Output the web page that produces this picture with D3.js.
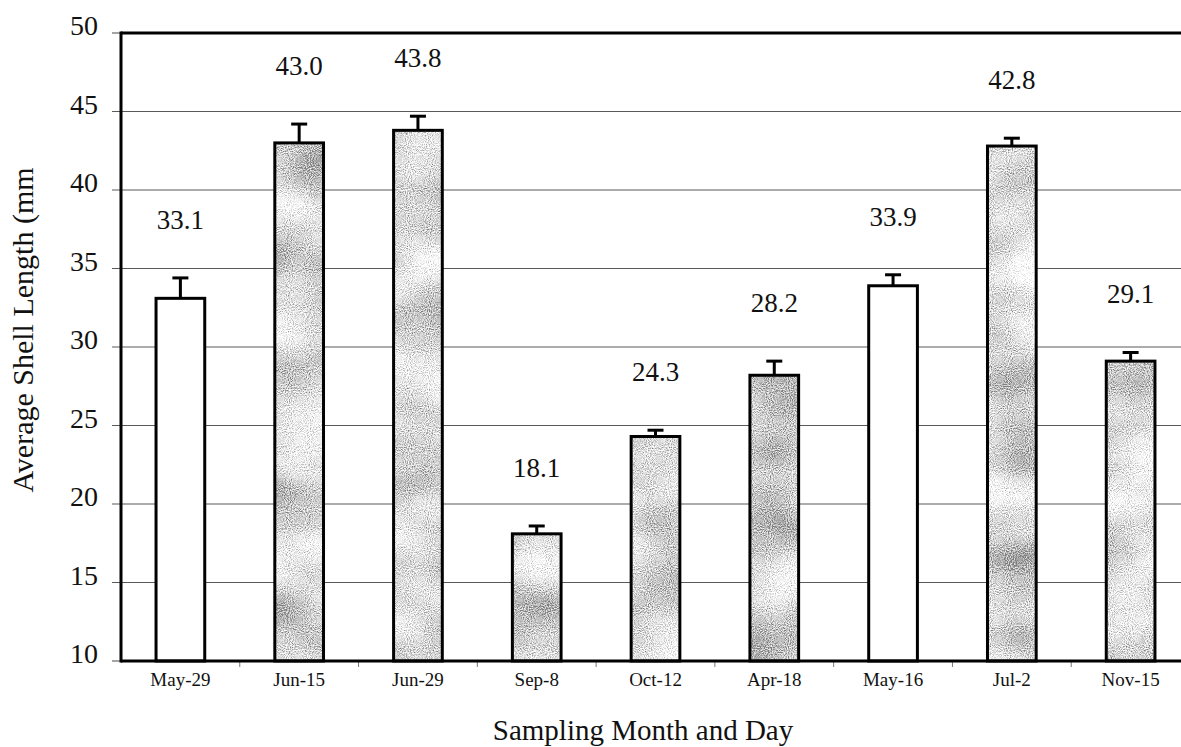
<!DOCTYPE html>
<html>
<head>
<meta charset="utf-8">
<script src="https://cdn.jsdelivr.net/npm/d3@7"></script>
<style>
  html, body { margin: 0; padding: 0; background: #fff; }
  svg { display: block; }
  svg text { font-family: "Liberation Serif", serif; }
</style>
</head>
<body>
<svg id="chart" width="1181" height="747"></svg>
<script>
// Sampling dates, mean shell length (mm) and standard error for each sample
const categories = ["May-29", "Jun-15", "Jun-29", "Sep-8", "Oct-12", "Apr-18", "May-16", "Jul-2", "Nov-15"];
const meanLength = [33.1, 43.0, 43.8, 18.1, 24.3, 28.2, 33.9, 42.8, 29.1];
const stdError   = [1.3, 1.2, 0.9, 0.5, 0.4, 0.9, 0.7, 0.5, 0.55];
const valueLabels = ["33.1", "43.0", "43.8", "18.1", "24.3", "28.2", "33.9", "42.8", "29.1"];
const yTicks = [10, 15, 20, 25, 30, 35, 40, 45, 50];
// samples drawn as open (unshaded) bars
const openBars = ["May-29", "May-16"];

const FONT = "Liberation Serif";
const svg = d3.select("#chart");
const plotLeft = 121, plotRight = 1190, plotTop = 33, plotBottom = 661;

const x = d3.scaleBand()
  .domain(categories)
  .range([plotLeft, plotRight])
  .paddingInner(0.59)
  .paddingOuter(0.295);

const y = d3.scaleLinear()
  .domain([10, 50])
  .range([plotBottom, plotTop]);

// stippled grey fill for the shaded bars
const defs = svg.append("defs");
const f = defs.append("filter")
  .attr("id", "stipple")
  .attr("filterUnits", "objectBoundingBox")
  .attr("x", 0).attr("y", 0).attr("width", 1).attr("height", 1)
  .attr("color-interpolation-filters", "sRGB");
const toGrey = "1 0 0 0 0  1 0 0 0 0  1 0 0 0 0  0 0 0 0 1";
f.append("feTurbulence").attr("type", "fractalNoise")
  .attr("baseFrequency", "0.011 0.017").attr("numOctaves", 2).attr("seed", 11)
  .attr("result", "blotRaw");
f.append("feColorMatrix").attr("in", "blotRaw").attr("type", "matrix")
  .attr("values", toGrey).attr("result", "blot");
f.append("feTurbulence").attr("type", "fractalNoise")
  .attr("baseFrequency", "0.95").attr("numOctaves", 1).attr("seed", 5)
  .attr("result", "fineRaw");
f.append("feColorMatrix").attr("in", "fineRaw").attr("type", "matrix")
  .attr("values", toGrey).attr("result", "fine");
f.append("feComposite").attr("in", "blot").attr("in2", "fine")
  .attr("operator", "arithmetic")
  .attr("k1", 0).attr("k2", 1.0).attr("k3", 1.7).attr("k4", -0.78)
  .attr("result", "mix");
const ct = f.append("feComponentTransfer").attr("in", "mix").attr("result", "dots");
["feFuncR", "feFuncG", "feFuncB"].forEach(fn =>
  ct.append(fn).attr("type", "discrete").attr("tableValues", "0.5 0.64 0.76 0.86 0.94 1"));
f.append("feComposite").attr("in", "dots").attr("in2", "SourceGraphic").attr("operator", "in");

// horizontal gridlines with short outward ticks on the value axis
svg.append("g")
  .selectAll("line")
  .data(yTicks.filter(t => t > 10 && t < 50))
  .join("line")
  .attr("x1", plotLeft - 9).attr("x2", 1181)
  .attr("y1", d => y(d)).attr("y2", d => y(d))
  .attr("stroke", "#5a5a5a").attr("stroke-width", 1.1);

svg.append("g")
  .selectAll("line")
  .data([10, 50])
  .join("line")
  .attr("x1", plotLeft - 9).attr("x2", plotLeft)
  .attr("y1", d => y(d)).attr("y2", d => y(d))
  .attr("stroke", "#5a5a5a").attr("stroke-width", 1.1);

// small ticks between categories below the base line
const bounds = categories.slice(1).map(c => x(c) - x.step() * x.paddingInner() / 2);
svg.append("g")
  .selectAll("line")
  .data(bounds)
  .join("line")
  .attr("x1", d => d).attr("x2", d => d)
  .attr("y1", plotBottom).attr("y2", plotBottom + 6)
  .attr("stroke", "#777").attr("stroke-width", 1);

const rows = categories.map((c, i) => ({ c, v: meanLength[i], e: stdError[i], label: valueLabels[i] }));

// bar fills
const bars = svg.append("g");
bars.selectAll("rect.fill")
  .data(rows)
  .join("rect")
  .attr("class", "fill")
  .attr("x", d => x(d.c))
  .attr("y", d => y(d.v))
  .attr("width", x.bandwidth())
  .attr("height", d => y(10) - y(d.v))
  .attr("fill", d => openBars.includes(d.c) ? "#fff" : "#888")
  .attr("filter", d => openBars.includes(d.c) ? null : "url(#stipple)");

// bar outlines
bars.selectAll("rect.outline")
  .data(rows)
  .join("rect")
  .attr("class", "outline")
  .attr("x", d => x(d.c))
  .attr("y", d => y(d.v))
  .attr("width", x.bandwidth())
  .attr("height", d => y(10) - y(d.v))
  .attr("fill", "none")
  .attr("stroke", "#000")
  .attr("stroke-width", 3);

// upper error bars
const err = svg.append("g").attr("stroke", "#000").attr("stroke-width", 3);
err.selectAll("line.stem")
  .data(rows)
  .join("line")
  .attr("class", "stem")
  .attr("x1", d => x(d.c) + x.bandwidth() / 2)
  .attr("x2", d => x(d.c) + x.bandwidth() / 2)
  .attr("y1", d => y(d.v))
  .attr("y2", d => y(d.v + d.e));
err.selectAll("line.cap")
  .data(rows)
  .join("line")
  .attr("class", "cap")
  .attr("x1", d => x(d.c) + x.bandwidth() / 2 - 8)
  .attr("x2", d => x(d.c) + x.bandwidth() / 2 + 8)
  .attr("y1", d => y(d.v + d.e))
  .attr("y2", d => y(d.v + d.e));

// value labels above each bar
svg.append("g")
  .selectAll("text")
  .data(rows)
  .join("text")
  .attr("x", d => x(d.c) + x.bandwidth() / 2)
  .attr("y", d => y(d.v + d.e) - 49)
  .attr("text-anchor", "middle")
  .attr("font-family", FONT)
  .attr("font-size", 27)
  .attr("fill", "#111")
  .text(d => d.label);

// plot frame: left axis, base line and top border
svg.append("line").attr("x1", plotLeft).attr("x2", plotLeft).attr("y1", plotTop - 1.5).attr("y2", plotBottom + 1.5)
  .attr("stroke", "#000").attr("stroke-width", 3);
svg.append("line").attr("x1", plotLeft).attr("x2", 1181).attr("y1", plotBottom).attr("y2", plotBottom)
  .attr("stroke", "#000").attr("stroke-width", 3);
svg.append("line").attr("x1", plotLeft).attr("x2", 1181).attr("y1", plotTop).attr("y2", plotTop)
  .attr("stroke", "#000").attr("stroke-width", 3);

// value axis tick labels
const yAxis = d3.axisLeft(y).tickValues(yTicks).tickSize(0).tickPadding(23);
const ya = svg.append("g").attr("transform", `translate(${plotLeft},0)`).call(yAxis)
  .attr("font-family", FONT);
ya.select(".domain").remove();
ya.selectAll("text")
  .attr("font-family", FONT)
  .attr("font-size", 28)
  .attr("fill", "#111")
  .attr("dy", "0.07em");

// category axis tick labels
const xAxis = d3.axisBottom(x).tickSize(0).tickPadding(0);
const xa = svg.append("g").attr("transform", `translate(0,${plotBottom})`).call(xAxis)
  .attr("font-family", FONT);
xa.select(".domain").remove();
xa.selectAll("text")
  .attr("font-family", FONT)
  .attr("font-size", 19)
  .attr("fill", "#111")
  .attr("y", 25)
  .attr("dy", 0);

// axis titles
svg.append("text")
  .attr("x", 643).attr("y", 740)
  .attr("text-anchor", "middle")
  .attr("font-family", FONT)
  .attr("font-size", 29)
  .attr("fill", "#111")
  .text("Sampling Month and Day");

svg.append("text")
  .attr("transform", "translate(33,330) rotate(-90)")
  .attr("text-anchor", "middle")
  .attr("font-family", FONT)
  .attr("font-size", 30)
  .attr("fill", "#111")
  .text("Average Shell Length (mm");
</script>
</body>
</html>
